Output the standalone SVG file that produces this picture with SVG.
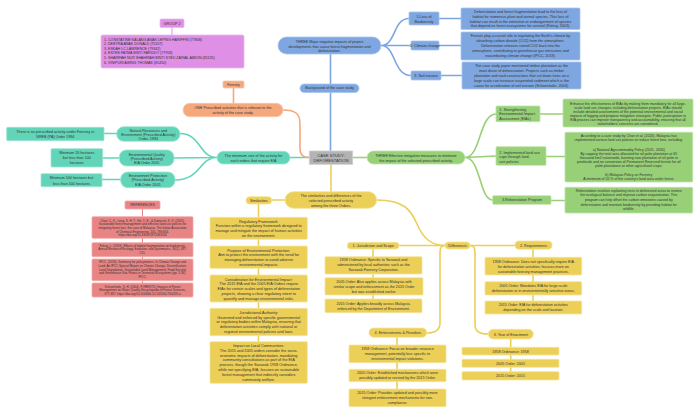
<svg xmlns="http://www.w3.org/2000/svg" width="700" height="416" viewBox="0 0 700 416">
<style>
text{font-family:"Liberation Sans",Arial,sans-serif;fill:#333;text-anchor:middle;font-size:3.7px}
.l{text-anchor:start}
.c{font-size:4.2px}
.r{font-size:3px}
.g{font-size:3.5px}
.m{font-size:3.6px}
.bl{fill:#7ea6e0;stroke:#a9c5ee;stroke-width:0.8}
.gr{fill:#97d077;stroke:#bfe3aa;stroke-width:0.8}
.te{fill:#62d5b8;stroke:#9de5d3;stroke-width:0.8}
.or{fill:#f5a87c;stroke:#f8c6a8;stroke-width:0.8}
.ye{fill:#eccf57;stroke:#f5e39a;stroke-width:0.8}
.pk{fill:#df8fe5;stroke:#ebb7ef;stroke-width:0.8}
.rd{fill:#e98484;stroke:#f0aaaa;stroke-width:0.8}
.gy{fill:#b3b3b3;stroke:#d0d0d0;stroke-width:0.8}
.cb,.cg,.ct,.co,.cy,.cp,.cr{fill:none;stroke-width:1.6;stroke-linecap:round}
.cb{stroke:#7ea6e0}.cg{stroke:#97d077}.ct{stroke:#62d5b8}.co{stroke:#f5a87c}.cy{stroke:#eccf57}.cp{stroke:#df8fe5;stroke-width:1}.cr{stroke:#e98484;stroke-width:1}
</style>
<rect width="700" height="416" fill="#fff"/>
<g id="connectors">
<path class="cb" d="M330.5,151 L330.5,92 M330.5,84 L330.5,54"/>
<path class="cb" d="M381,45.5 C396,45.5 393,18.5 409,18.5 M381,45.5 L411,45.5 M381,45.5 C396,45.5 393,75.5 411,75.5"/>
<path class="cb" d="M439,18.5 L461,18.5 M439,45.5 L461,45.5 M441,75.5 L462,75.5"/>
<path class="cg" d="M353,157.5 L367,157.5"/>
<path class="cg" d="M465,157.5 C481,157.5 479,114 496,114 M465,157.5 L496,156 M465,157.5 C481,157.5 479,200 493,200"/>
<path class="cg" d="M540,114 L563,114 M546,156.5 L565,156.5 M551,200.5 L565,200.5"/>
<path class="ct" d="M309,157.5 L290,157.5"/>
<path class="ct" d="M217,157.5 C199,157.5 201,133.5 180,133.5 M217,157.5 L174,158 M217,157.5 C199,157.5 201,180 175,180"/>
<path class="ct" d="M116.7,133.5 L104,133.5 M119,158 L103,158 M120.7,179.5 L102,179.5"/>
<path class="co" d="M233.5,88 L233.5,103 M283,110 C296,110 300,114 300,124 L300,149 C300,155 303,157.5 309,157.5"/>
<path class="cp" d="M172,27.5 L172,35"/>
<path class="cr" d="M142.5,209 L142.5,216.7 M142.5,238.3 L142.5,242.7 M142.5,256.7 L142.5,259 M142.5,280.7 L142.5,283"/>
<path class="cy" d="M331,164 L331,192 M285,200 L271.7,200 M258.5,204 L258.5,217.3 M258.5,239.3 L258.5,246 M258.5,268.3 L258.5,275 M258.5,302 L258.5,308.3 M258.5,336 L258.5,341.7"/>
<path class="cy" d="M377,200 C404,200 411,210 417,224 C423,238 431,245.5 445,245.5"/>
<path class="cy" d="M445,245.5 L399,245.5 M470,245.5 L515,245.5"/>
<path class="cy" d="M445,245.5 C439,245.5 440,252 440,260 L440,323 C440,330 435,333 427,333"/>
<path class="cy" d="M470,245.5 C476,245.5 475,252 475,260 L475,325 C475,331 480,334 488,334"/>
<path class="cy" d="M373,249 L373,257 M373,274 L373,277.7 M373,295 L373,299"/>
<path class="cy" d="M397,337.3 L397,345 M397,362.7 L397,369.3 M397,381.7 L397,389"/>
<path class="cy" d="M533,249.3 L533,257.3 M533,275 L533,281.7 M533,295 L533,301"/>
<path class="cy" d="M510.7,339 L510.7,347.3 M510.7,355 L510.7,359.3 M510.7,367.3 L510.7,371.7"/>
</g>

<g id="group2"><rect class="pk" x="160" y="19" width="24" height="8.5" rx="1"/><text x="172" y="24.8" style="font-size:3.8px">GROUP 2</text></g>
<g id="members"><rect class="pk" x="101" y="35" width="143" height="33" rx="1.5"/>
<text class="l m" x="104"><tspan x="104" y="40.6">1. CONSTATINE KALANG ANAK LEPING HARIFFIN (77808)</tspan><tspan x="104" y="45">2. DEBYRA ANAK DONALD (75207)</tspan><tspan x="104" y="49.6">3. ESKAH LC LAWRENCE (79342)</tspan><tspan x="104" y="54.3">4. ESTEE FATMA BINTI FARIDDY (77958)</tspan><tspan x="104" y="59">5. SHARIFAH NUR SHAHIRAH BINTI SYED ZAINAL ABIDIN (81135)</tspan><tspan x="104" y="64">6. VINIPURI AWING THOMAS (81450)</tspan></text></g>

<g id="center"><rect class="gy" x="309.3" y="151" width="43.4" height="13.3"/><text class="c"><tspan x="331" y="156.6">CASE STUDY:</tspan><tspan x="331" y="162.3">DEFORESTATION</tspan></text></g>

<g id="background"><rect class="bl" x="300" y="84" width="59" height="8.5" rx="4.2"/><text x="329.5" y="89.3">Background of the case study</text></g>
<g id="three-impacts"><rect class="bl" x="278" y="37" width="103" height="17" rx="8.5"/><text><tspan x="329.5" y="43">THREE Major negative impacts of project</tspan><tspan x="329.5" y="48">developments that cause forest fragmentation and</tspan><tspan x="329.5" y="52">deforestation.</tspan></text></g>
<g id="impact1"><rect class="bl" x="409" y="12" width="30" height="13" rx="1"/><text><tspan x="424" y="18">1.Loss of</tspan><tspan x="424" y="23">Biodiversity</tspan></text></g>
<g id="impact2"><rect class="bl" x="411" y="41" width="28" height="9" rx="1"/><text x="425" y="46.8">2. Climate change</text></g>
<g id="impact3"><rect class="bl" x="411" y="71" width="30" height="9" rx="1"/><text x="426" y="76.8">3. Soil erosion</text></g>
<g id="impact1-desc"><rect class="bl" x="461" y="8" width="119" height="21.5" rx="1"/><text><tspan x="520.5" y="13">Deforestation and forest fragmentation lead to the loss of</tspan><tspan x="520.5" y="18">habitat for numerous plant and animal species. This loss of</tspan><tspan x="520.5" y="22.6">habitat can result in the extinction or endangerment of species</tspan><tspan x="520.5" y="27.3">that depend on forest ecosystems for survival (Fahrig, 2003).</tspan></text></g>
<g id="impact2-desc"><rect class="bl" x="461" y="32" width="119" height="28" rx="1"/><text><tspan x="520.5" y="37">Forests play a crucial role in regulating the Earth's climate by</tspan><tspan x="520.5" y="42">absorbing carbon dioxide (CO2) from the atmosphere.</tspan><tspan x="520.5" y="46.6">Deforestation releases stored CO2 back into the</tspan><tspan x="520.5" y="52">atmosphere, contributing to greenhouse gas emissions and</tspan><tspan x="520.5" y="57.3">exacerbating climate change (IPCC, 2019).</tspan></text></g>
<g id="impact3-desc"><rect class="bl" x="462" y="62" width="119" height="27" rx="1"/><text><tspan x="521.5" y="67.3">The case study paper mentioned timber plantation as the</tspan><tspan x="521.5" y="72.3">main driver of deforestation. Projects such as timber</tspan><tspan x="521.5" y="77.3">plantation and road constructions that cut down trees on a</tspan><tspan x="521.5" y="82">large scale can increase suspended sediment which is the</tspan><tspan x="521.5" y="87">cause for acceleration of soil erosion (Schoenholtz, 2004).</tspan></text></g>

<g id="mitigation"><rect class="gr" x="367" y="151" width="98" height="13" rx="6.5"/><text><tspan x="416" y="156.6">THREE Effective mitigation measures to minimize</tspan><tspan x="416" y="161.6">the impact of the selected prescribed activity.</tspan></text></g>
<g id="mit1"><rect class="gr" x="496" y="106" width="44" height="15.7" rx="1"/><text class="l"><tspan x="499.3" y="111.3">1. Strengthening</tspan><tspan x="499.3" y="115.3">Environmental Impact</tspan><tspan x="499.3" y="119.6">Assessment (EIAs)</tspan></text></g>
<g id="mit2"><rect class="gr" x="496" y="146.7" width="50" height="18.6" rx="1"/><text class="l"><tspan x="499.3" y="154">2. Implemented land use</tspan><tspan x="499.3" y="158.3">caps through land-</tspan><tspan x="499.3" y="162.6">use policies</tspan></text></g>
<g id="mit3"><rect class="gr" x="492.7" y="195.7" width="58.3" height="8.6" rx="1"/><text x="522" y="201.3">3.Reforestation Program</text></g>
<g id="mit1-desc"><rect class="gr" x="563" y="99" width="130" height="28" rx="1"/><text class="g"><tspan x="628" y="104.6">Enhance the effectiveness of EIAs by making them mandatory for all large-</tspan><tspan x="628" y="109">scale land use changes, including deforestation projects. EIAs should</tspan><tspan x="628" y="113.3">include detailed assessments of the potential environmental and social</tspan><tspan x="628" y="117.4">impacts of logging and propose mitigation strategies. Public participation in</tspan><tspan x="628" y="121.4">EIA process can improve transparency and accountability, ensuring that all</tspan><tspan x="628" y="125.4">stakeholders' concerns are considered.</tspan></text></g>
<g id="mit2-desc"><rect class="gr" x="565" y="132.3" width="127.7" height="49.7" rx="1"/><text class="g"><tspan x="628.8" y="137.3">According to a case study by Chan et al. (2020), Malaysia has</tspan><tspan x="628.8" y="141.3">implemented various land use policies to reduce forest loss, including:</tspan><tspan x="628.8" y="151.3">a) National Agricommodity Policy (2021- 2030)</tspan><tspan x="628.8" y="155">By capping the total area allocated for oil palm plantation at 65</tspan><tspan x="628.8" y="159">thousand km2 nationwide, banning new plantation of oil palm in</tspan><tspan x="628.8" y="163.3">peatlands and no conversion of Permanent Reserved forests for oil</tspan><tspan x="628.8" y="167.3">palm plantations or other agricultural crops.</tspan><tspan x="628.8" y="176.3">b) Malaysia Policy on Forestry</tspan><tspan x="628.8" y="180.4">A minimum of 50 % of the country's land area under forest.</tspan></text></g>
<g id="mit3-desc"><rect class="gr" x="565" y="187.3" width="127.7" height="25.7" rx="1"/><text class="g"><tspan x="628.8" y="192">Reforestation involves replanting trees in deforested areas to restore</tspan><tspan x="628.8" y="196.3">the ecological balance and improve carbon sequestration. This</tspan><tspan x="628.8" y="201.3">program can help offset the carbon emissions caused by</tspan><tspan x="628.8" y="205.6">deforestation and maintain biodiversity by providing habitat for</tspan><tspan x="628.8" y="210">wildlife.</tspan></text></g>

<g id="min-size"><rect class="te" x="217" y="151.3" width="73" height="12.7" rx="6.3"/><text><tspan x="253.5" y="156.6">The minimum size of the activity for</tspan><tspan x="253.5" y="162">each orders that require EIA</tspan></text></g>
<g id="order1994"><rect class="te" x="116.7" y="126.7" width="63.3" height="14.6" rx="7"/><text><tspan x="148.3" y="132">Natural Resources and</tspan><tspan x="148.3" y="135.6">Environment (Prescribed Activity)</tspan><tspan x="148.3" y="139.6">Order, 1994</tspan></text></g>
<g id="order2015"><rect class="te" x="119.3" y="150" width="54.7" height="16" rx="7"/><text><tspan x="146.7" y="155.6">Environmental Quality</tspan><tspan x="146.7" y="159.6">(Prescribed Activity)</tspan><tspan x="146.7" y="163.6">EIA Order 2015</tspan></text></g>
<g id="order2005"><rect class="te" x="120.7" y="172" width="54.3" height="15.7" rx="7"/><text><tspan x="147.8" y="177.3">Environment Protection</tspan><tspan x="147.8" y="181.3">(Prescribed Activity)</tspan><tspan x="147.8" y="185.6">EIA Order 2005</tspan></text></g>
<g id="leaf1994"><rect class="te" x="6.7" y="127.3" width="97.3" height="13.4" rx="1"/><text><tspan x="55.3" y="133.3">There is no prescribed activity under Forestry in</tspan><tspan x="55.3" y="138">NREB (PA) Order 1994</tspan></text></g>
<g id="leaf2015"><rect class="te" x="51" y="148.7" width="51.7" height="18.3" rx="1"/><text><tspan x="76.8" y="154">Minimum 20 hectares</tspan><tspan x="76.8" y="159">but less than 100</tspan><tspan x="76.8" y="164.3">hectares</tspan></text></g>
<g id="leaf2005"><rect class="te" x="41" y="173.7" width="61" height="13" rx="1"/><text><tspan x="71.5" y="179">Minimum 100 hectares but</tspan><tspan x="71.5" y="184.6">less than 500 hectares</tspan></text></g>

<g id="forestry"><rect class="or" x="223" y="81" width="21" height="7" rx="1"/><text x="233.5" y="85.8" style="font-size:3.4px">Forestry</text></g>
<g id="one-activity"><rect class="or" x="183" y="103.3" width="100" height="13.4" rx="6.7"/><text><tspan x="233" y="109">ONE Prescribed activities that is relevant to the</tspan><tspan x="233" y="114">activity of the case study.</tspan></text></g>

<g id="references"><rect class="rd" x="125" y="201" width="35" height="8" rx="1"/><text x="142.5" y="206.3" class="m">REFERENCES</text></g>
<g id="ref1"><rect class="rd" x="92" y="216.7" width="101" height="21.6" rx="1"/><text class="r"><tspan x="142.5" y="221.7">Chan, C. K., Long, S. H. T., Ho, C. E., &amp; Kamaruh, K. D. (2020).</tspan><tspan x="142.5" y="225.3">Sustainable forest management and effective land use policies for</tspan><tspan x="142.5" y="229">mitigating forest loss: the case of Malaysia. The Italian Association</tspan><tspan x="142.5" y="232.7">of Chemical Engineering, 105, 799-804.</tspan><tspan x="142.5" y="236.2">https://doi.org/10.3303/CET2083134</tspan></text></g>
<g id="ref2"><rect class="rd" x="92" y="242.7" width="101" height="14" rx="1"/><text class="r"><tspan x="142.5" y="246.6">Fahrig, L. (2003). Effects of habitat fragmentation on biodiversity.</tspan><tspan x="142.5" y="250.4">Annual Review of Ecology, Evolution, and Systematics, 34(1), 487-</tspan><tspan x="142.5" y="254.3">515.</tspan></text></g>
<g id="ref3"><rect class="rd" x="92" y="259" width="101" height="21.7" rx="1"/><text class="r"><tspan x="142.5" y="263.3">IPCC. (2019). Summary for policymakers. In Climate Change and</tspan><tspan x="142.5" y="267">Land: An IPCC Special Report on Climate Change, Desertification,</tspan><tspan x="142.5" y="270.7">Land Degradation, Sustainable Land Management, Food Security</tspan><tspan x="142.5" y="274.3">and Greenhouse Gas Fluxes in Terrestrial Ecosystems (pp. 3-36).</tspan><tspan x="142.5" y="278.3">IPCC.</tspan></text></g>
<g id="ref4"><rect class="rd" x="92" y="283" width="101" height="14" rx="1"/><text class="r"><tspan x="142.5" y="287.7">Schoenholtz, S. H. (2004). FORESTS | Impacts of Forest</tspan><tspan x="142.5" y="291.3">Management on Water Quality. Encyclopedia of Forest Sciences,</tspan><tspan x="142.5" y="295.3">377-387. https://doi.org/10.1016/b0-12-145160-7/00220-x</tspan></text></g>

<g id="sim-diff"><rect class="ye" x="285" y="191.7" width="91.7" height="16.6" rx="8.3"/><text><tspan x="331" y="197">The similarities and differences of the</tspan><tspan x="331" y="201.6">selected prescribed activity</tspan><tspan x="331" y="206.6">among the three Orders.</tspan></text></g>
<g id="similarities"><rect class="ye" x="246" y="196.7" width="25.7" height="7.3" rx="3.6"/><text x="258.8" y="201.8">Similarities</text></g>
<g id="sim1"><rect class="ye" x="210" y="217.3" width="97.3" height="22" rx="1"/><text style="font-size:3.8px"><tspan x="258.7" y="223">Regulatory Framework:</tspan><tspan x="258.7" y="227.3">Function within a regulatory framework designed to</tspan><tspan x="258.7" y="232">manage and mitigate the impact of human activities</tspan><tspan x="258.7" y="236.6">on the environment.</tspan></text></g>
<g id="sim2"><rect class="ye" x="210" y="246" width="97.3" height="22.3" rx="1"/><text style="font-size:3.8px"><tspan x="258.7" y="252">Purpose of Environmental Protection:</tspan><tspan x="258.7" y="256.3">Aim to protect the environment with the need for</tspan><tspan x="258.7" y="261.3">managing deforestation to avoid adverse</tspan><tspan x="258.7" y="265.6">environmental impacts.</tspan></text></g>
<g id="sim3"><rect class="ye" x="210" y="275" width="97.3" height="27" rx="1"/><text style="font-size:3.8px"><tspan x="258.7" y="280.6">Consideration for Environmental Impact:</tspan><tspan x="258.7" y="285.3">The 2015 EIA and the 2005 EIA Orders require</tspan><tspan x="258.7" y="290.3">EIAs for certain scales and types of deforestation</tspan><tspan x="258.7" y="295">projects, showing a clear regulatory intent to</tspan><tspan x="258.7" y="300">quantify and manage environmental risks.</tspan></text></g>
<g id="sim4"><rect class="ye" x="210" y="308.3" width="97.3" height="27.4" rx="1"/><text style="font-size:3.8px"><tspan x="258.7" y="314">Jurisdictional Authority:</tspan><tspan x="258.7" y="318.6">Governed and enforced by specific governmental</tspan><tspan x="258.7" y="323.3">or regulatory bodies within Malaysia, ensuring that</tspan><tspan x="258.7" y="328">deforestation activities comply with national or</tspan><tspan x="258.7" y="333">regional environmental policies and laws.</tspan></text></g>
<g id="sim5"><rect class="ye" x="210" y="341.7" width="97.3" height="41.6" rx="1"/><text style="font-size:3.8px"><tspan x="258.7" y="347.3">Impact on Local Communities:</tspan><tspan x="258.7" y="352">The 2015 and 2005 orders consider the socio-</tspan><tspan x="258.7" y="356.6">economic impacts of deforestation, mandating</tspan><tspan x="258.7" y="361.3">community consultations as part of the EIA</tspan><tspan x="258.7" y="366.3">process, though the Sarawak 1958 Ordinance,</tspan><tspan x="258.7" y="371.3">while not specifying EIA, focuses on sustainable</tspan><tspan x="258.7" y="376">forest management that indirectly considers</tspan><tspan x="258.7" y="380.6">community welfare.</tspan></text></g>

<g id="differences"><rect class="ye" x="445" y="242" width="25" height="7" rx="3.5"/><text x="457.5" y="246.8">Differences</text></g>
<g id="jurisdiction"><rect class="ye" x="347.3" y="242.3" width="51.7" height="6.7" rx="3.3"/><text x="373.2" y="246.8">1. Jurisdiction and Scope</text></g>
<g id="jur1"><rect class="ye" x="325" y="256.7" width="97" height="17.3" rx="1"/><text><tspan x="373.5" y="261.3">1958 Ordinance: Specific to Sarawak and</tspan><tspan x="373.5" y="266">administered by local authorities such as the</tspan><tspan x="373.5" y="271">Sarawak Forestry Corporation.</tspan></text></g>
<g id="jur2"><rect class="ye" x="325" y="277.7" width="98" height="17.3" rx="1"/><text><tspan x="374" y="283">2005 Order: Also applies across Malaysia with</tspan><tspan x="374" y="288">similar scope and enforcement as the 2015 Order</tspan><tspan x="374" y="292.6">but was established earlier.</tspan></text></g>
<g id="jur3"><rect class="ye" x="325" y="299" width="97" height="13.7" rx="1"/><text><tspan x="373.5" y="305">2015 Order: Applies broadly across Malaysia,</tspan><tspan x="373.5" y="310">enforced by the Department of Environment.</tspan></text></g>
<g id="requirements"><rect class="ye" x="515" y="241" width="37" height="8.3" rx="4.1"/><text x="533.5" y="246.5">2. Requirements</text></g>
<g id="req1"><rect class="ye" x="485" y="257.3" width="96.7" height="17.7" rx="1"/><text><tspan x="533.3" y="263">1958 Ordinance: Does not specifically require EIA</tspan><tspan x="533.3" y="267.6">for deforestation activities; focuses more on</tspan><tspan x="533.3" y="272.6">sustainable forestry management practices.</tspan></text></g>
<g id="req2"><rect class="ye" x="485" y="281.7" width="96.7" height="13.3" rx="1"/><text><tspan x="533.3" y="287">2005 Order: Mandates EIA for large-scale</tspan><tspan x="533.3" y="292">deforestation or in environmentally sensitive areas.</tspan></text></g>
<g id="req3"><rect class="ye" x="485" y="301" width="96.7" height="13" rx="1"/><text><tspan x="533.3" y="306.3">2015 Order: EIA for deforestation activities</tspan><tspan x="533.3" y="311.3">depending on the scale and location.</tspan></text></g>
<g id="year"><rect class="ye" x="488.3" y="329.3" width="45" height="9.7" rx="4.8"/><text x="510.8" y="335.5">3. Year of Enactment</text></g>
<g id="year1"><rect class="ye" x="462" y="347.3" width="97" height="7.7" rx="1"/><text x="510.5" y="352.5">1958 Ordinance: 1958</text></g>
<g id="year2"><rect class="ye" x="462" y="359.3" width="97" height="8" rx="1"/><text x="510.5" y="364.6">2005 Order: 2005</text></g>
<g id="year3"><rect class="ye" x="462" y="371.7" width="97" height="8.3" rx="1"/><text x="510.5" y="377.1">2015 Order: 2015</text></g>
<g id="enforcement"><rect class="ye" x="369" y="328" width="57.7" height="9.3" rx="4.6"/><text x="397.8" y="334">4. Enforcements &amp; Penalties</text></g>
<g id="enf1"><rect class="ye" x="349" y="345" width="97" height="17.7" rx="1"/><text><tspan x="397.5" y="350">1958 Ordinance: Focus on broader resource</tspan><tspan x="397.5" y="355">management, potentially less specific to</tspan><tspan x="397.5" y="359.6">environmental impact violations.</tspan></text></g>
<g id="enf2"><rect class="ye" x="349" y="369.3" width="97" height="12.4" rx="1"/><text><tspan x="397.5" y="374.3">2005 Order: Established mechanisms which were</tspan><tspan x="397.5" y="379">possibly updated or revised by the 2015 Order.</tspan></text></g>
<g id="enf3"><rect class="ye" x="349" y="389" width="97" height="17.7" rx="1"/><text><tspan x="397.5" y="394">2015 Order: Provides updated and possibly more</tspan><tspan x="397.5" y="399">stringent enforcement mechanisms for non-</tspan><tspan x="397.5" y="403.6">compliance.</tspan></text></g>
</svg>
